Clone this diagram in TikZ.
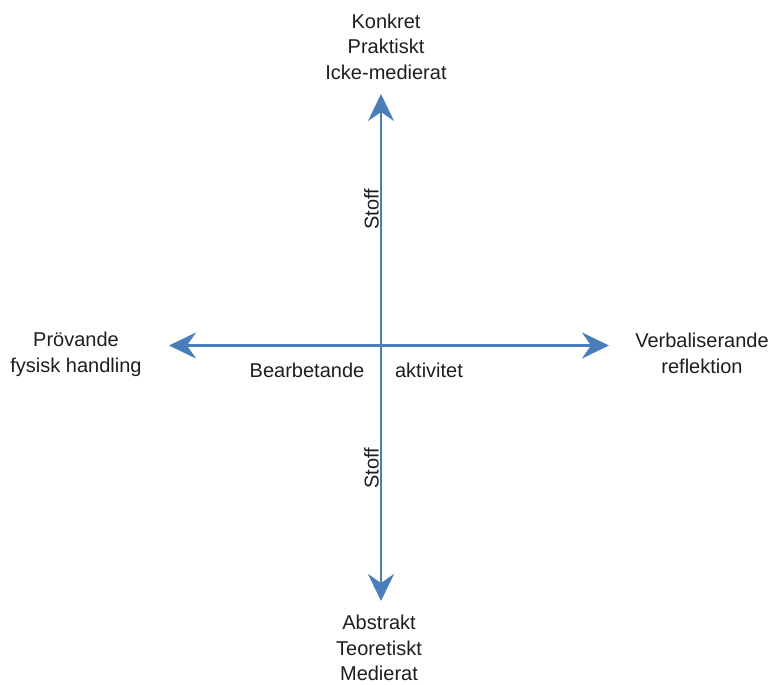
\documentclass[tikz,border=0pt]{standalone}
\usepackage{fontspec}
\setmainfont{Liberation Sans}
\usetikzlibrary{arrows.meta}
\definecolor{axisblue}{RGB}{74,126,187}
\definecolor{txt}{RGB}{30,30,30}
\begin{document}
\begin{tikzpicture}[x=1pt,y=-1pt,
  axisline/.style={draw=axisblue, line width=2.6pt, -{Stealth[length=27pt,width=26pt,inset=9pt]}},
  lbl/.style={text=txt, inner sep=0pt, font=\fontsize{20}{25.5}\selectfont, align=center},
  rotlbl/.style={lbl, rotate=90}]
\useasboundingbox (0,0) rectangle (774,685);
\coordinate (c) at (381,345.5);
\coordinate (top) at (381,94);
\coordinate (bottom) at (381,601);
\coordinate (left) at (169,345.5);
\coordinate (right) at (609,345.5);
\draw[axisline] (c) -- (top);
\draw[axisline] (c) -- (bottom);
\draw[axisline] (c) -- (left);
\draw[axisline] (c) -- (right);
\node[lbl] (konkret) at (386,46.7) {Konkret\\Praktiskt\\Icke-medierat};
\node[lbl] (abstrakt) at (379,648) {Abstrakt\\Teoretiskt\\Medierat};
\node[lbl] (provande) at (76,354.3) {Prövande\\fysisk handling};
\node[lbl] (verbal) at (702,353.2) {Verbaliserande\\reflektion};
\node[lbl, anchor=base] (bearb) at (307,377) {Bearbetande};
\node[lbl, anchor=base] (aktiv) at (429,377) {aktivitet};
\node[rotlbl] (stoffa) at (371.5,209) {Stoff};
\node[rotlbl] (stoffb) at (371.5,468) {Stoff};
\end{tikzpicture}
\end{document}
